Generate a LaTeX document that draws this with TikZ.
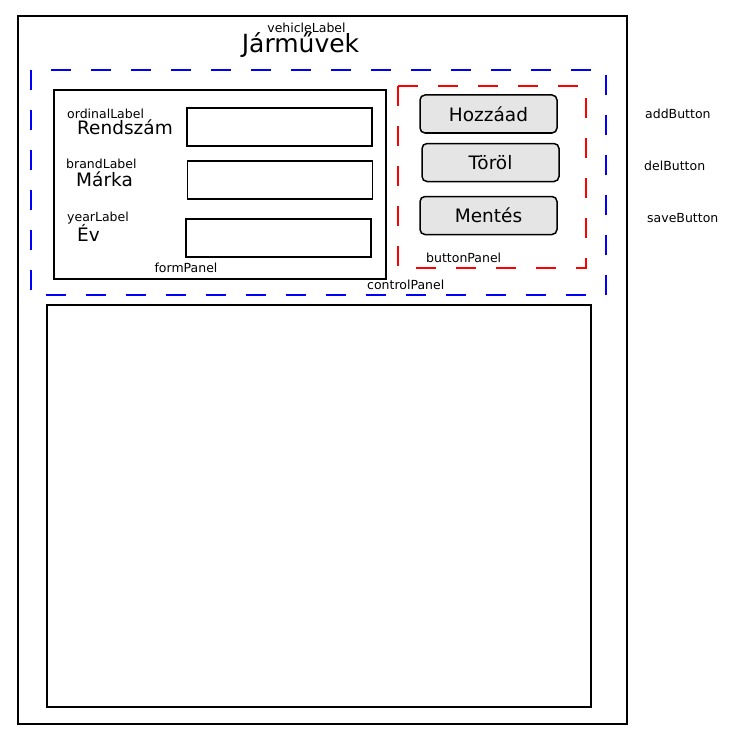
\documentclass[tikz,border=0pt]{standalone}
\usepackage{fontspec}
\setmainfont{DejaVu Sans}
\begin{document}
\begin{tikzpicture}
      [x=1pt,y=-1pt,
       small/.style={inner sep=0pt,font=\fontsize{12.5}{14}\selectfont},
       mid/.style={inner sep=0pt,font=\fontsize{18.5}{22}\selectfont},
       field/.style={draw,line width=1.5pt,minimum width=185pt,minimum height=38pt,inner sep=0pt},
       btn/.style={draw,line width=1.5pt,fill=black!10,rounded corners=5pt,
         minimum width=137pt,minimum height=38pt,inner sep=0pt,font=\fontsize{18.5}{22}\selectfont},
       panel/.style={line width=1.5pt,dash pattern=on 20pt off 20pt}]
      \useasboundingbox (0,0) rectangle (735,741);
      \draw[line width=1.5pt] (18,16) rectangle (627,724);
      \node[small,anchor=base] (vehicleLabel) at (306.5,33) {vehicleLabel};
      \node[inner sep=0pt,anchor=base,font=\fontsize{25}{30}\selectfont] (vehicle) at (300.5,53) {Járművek};

      \draw[panel,blue] (31,70) rectangle (606,295);
      \node[small,anchor=base west] (controlPanel) at (367,289) {controlPanel};

      \draw[line width=1.5pt] (54,90) rectangle (386,279);
      \node[small,anchor=base] (formPanel) at (186,272) {formPanel};
      \node[small,anchor=base west] (ordinalLabel) at (67,119) {ordinalLabel};
      \node[mid,anchor=base west] (ordinal) at (77,135) {Rendszám};
      \node[small,anchor=base west] (brandLabel) at (66,168) {brandLabel};
      \node[mid,anchor=base west] (brand) at (76,186) {Márka};
      \node[small,anchor=base west] (yearLabel) at (67,221) {yearLabel};
      \node[mid,anchor=base west] (year) at (77,241) {Év};
      \node[field] (ordinalField) at (279.5,127) {};
      \node[field] (brandField) at (280,180) {};
      \node[field] (yearField) at (278.5,238) {};

      \draw[panel,red] (398,86) rectangle (586,268);
      \node[small,anchor=base west] (buttonPanel) at (426,262) {buttonPanel};
      \node[btn] (add) at (488.5,114) {Hozzáad};
      \node[btn] (del) at (490.5,162.5) {Töröl};
      \node[btn] (save) at (488.5,215.5) {Mentés};
      \node[small,anchor=base west] (addButton) at (645,118) {addButton};
      \node[small,anchor=base west] (delButton) at (644,170) {delButton};
      \node[small,anchor=base west] (saveButton) at (647,222) {saveButton};

      \draw[line width=1.5pt] (47,305) rectangle (591,707);
    \end{tikzpicture}
\end{document}
